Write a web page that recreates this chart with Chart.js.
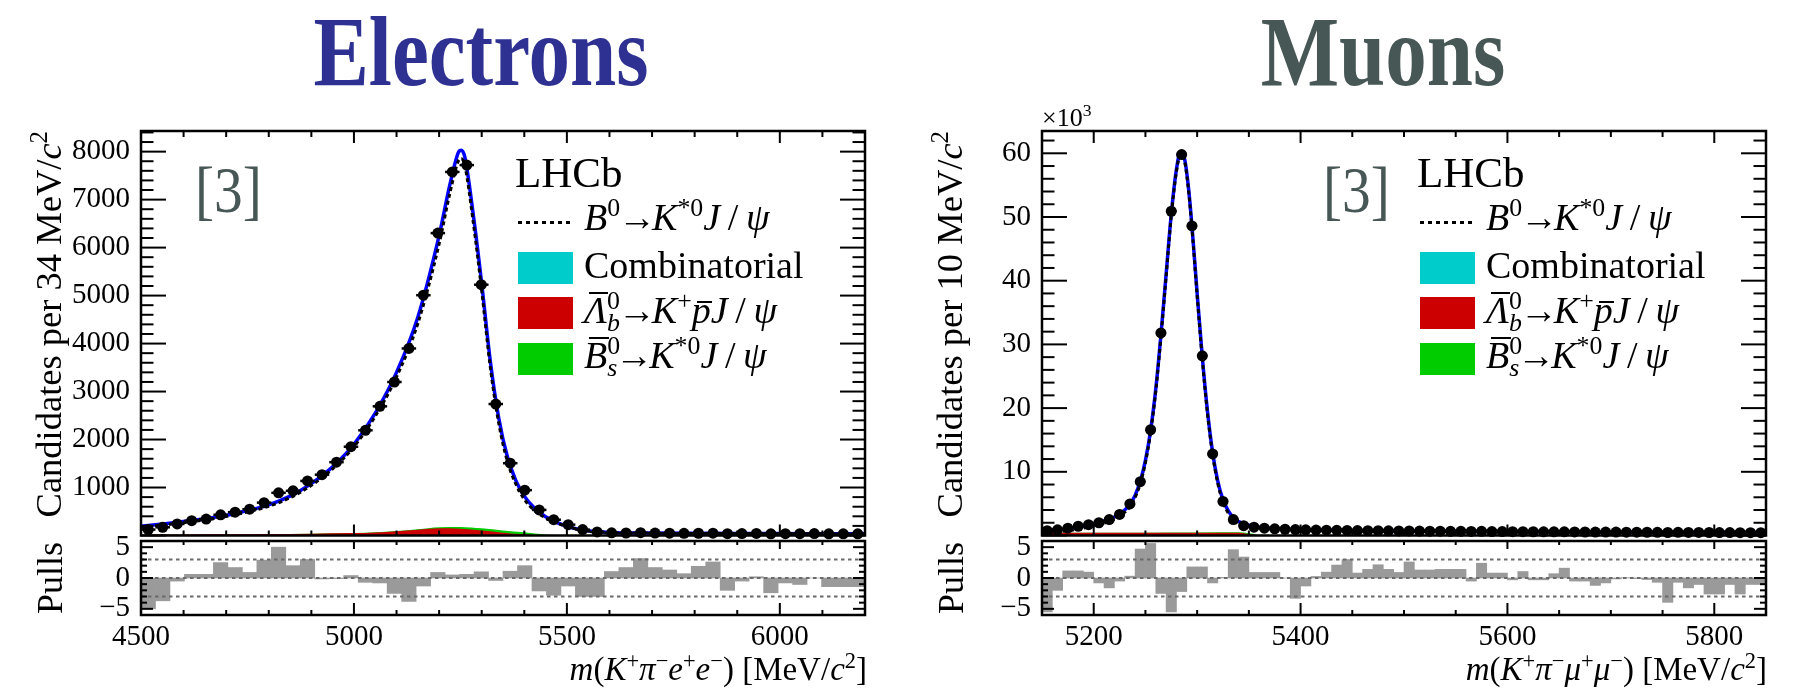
<!DOCTYPE html>
<html>
<head>
<meta charset="utf-8">
<script src="https://cdn.jsdelivr.net/npm/chart.js@4.4.0/dist/chart.umd.min.js"></script>
<style>
body { margin:0; background:#fff; width:1804px; height:695px; overflow:hidden; position:relative; }
canvas { position:absolute; }
.txt { position:absolute; white-space:nowrap; line-height:1; font-family:"Liberation Serif", serif; color:#000; }
.txt sup, .txt sub { line-height:0; font-size:.68em; }
.txt sup { vertical-align:.55em; }
.txt sub { vertical-align:-.32em; }
.st { margin-left:-.5em; }
.ar { margin:0 -.1em 0 -.06em; }
.ov { position:relative; display:inline-block; }
.ov::before { content:""; position:absolute; left:.14em; right:-.04em; top:var(--ot); border-top:.06em solid #000; }
.ttl { font-size:100px; font-weight:bold; width:500px; text-align:center; transform:scaleX(.83); }
.ref { font-size:66px; color:#475755; transform:scaleX(.87); transform-origin:0 0; }
.rot { transform-origin:0 0; transform:rotate(-90deg); }
.leg { position:absolute; top:0; width:400px; height:400px; }
.sw { position:absolute; left:518px; width:55px; height:32px; }
.dots { position:absolute; left:518px; top:221px; width:55px; height:3px;
        background:repeating-linear-gradient(90deg,#000 0 4.5px,transparent 4.5px 8px); }
</style>
</head>
<body>
<canvas id="eMain" width="900" height="541" style="left:0;top:0"></canvas>
<canvas id="mMain" width="904" height="541" style="left:900px;top:0"></canvas>
<canvas id="ePull" width="900" height="175" style="left:0;top:520px"></canvas>
<canvas id="mPull" width="904" height="175" style="left:900px;top:520px"></canvas>

<div class="txt ttl" style="left:231px;top:2px;color:#2e3192">Electrons</div>
<div class="txt ttl" style="left:1133px;top:2px;color:#475755">Muons</div>

<div class="txt ref" style="left:195px;top:157px">[3]</div>
<div class="txt ref" style="left:1323px;top:157px">[3]</div>

<div class="txt" style="left:1042px;top:105px;font-size:26px">×10<sup>3</sup></div>

<div class="leg" style="left:0">
  <div class="txt" style="left:515px;top:151px;font-size:43px">LHCb</div>
  <div class="dots"></div>
  <div class="sw" style="top:252px;background:#00cccc"></div>
  <div class="sw" style="top:297px;background:#cc0000"></div>
  <div class="sw" style="top:343px;background:#00cc00"></div>
  <div class="txt" style="left:584px;top:198px;font-size:38px"><i>B</i><sup>0</sup><span class="ar">→</span><i>K</i><sup>*0</sup><i>J</i>&thinsp;/&thinsp;<i>ψ</i></div>
  <div class="txt" style="left:584px;top:246px;font-size:38px">Combinatorial</div>
  <div class="txt" style="left:584px;top:291px;font-size:38px"><span class="ov" style="--ot:.02em"><i>Λ</i></span><sup>0</sup><sub class="st"><i>b</i></sub><span class="ar">→</span><i>K</i><sup>+</sup><span class="ov" style="--ot:.25em"><i>p</i></span><i>J</i>&thinsp;/&thinsp;<i>ψ</i></div>
  <div class="txt" style="left:584px;top:336px;font-size:38px"><span class="ov" style="--ot:.02em"><i>B</i></span><sup>0</sup><sub class="st"><i>s</i></sub><span class="ar">→</span><i>K</i><sup>*0</sup><i>J</i>&thinsp;/&thinsp;<i>ψ</i></div>
</div>
<div class="leg" style="left:902px">
  <div class="txt" style="left:515px;top:151px;font-size:43px">LHCb</div>
  <div class="dots"></div>
  <div class="sw" style="top:252px;background:#00cccc"></div>
  <div class="sw" style="top:297px;background:#cc0000"></div>
  <div class="sw" style="top:343px;background:#00cc00"></div>
  <div class="txt" style="left:584px;top:198px;font-size:38px"><i>B</i><sup>0</sup><span class="ar">→</span><i>K</i><sup>*0</sup><i>J</i>&thinsp;/&thinsp;<i>ψ</i></div>
  <div class="txt" style="left:584px;top:246px;font-size:38px">Combinatorial</div>
  <div class="txt" style="left:584px;top:291px;font-size:38px"><span class="ov" style="--ot:.02em"><i>Λ</i></span><sup>0</sup><sub class="st"><i>b</i></sub><span class="ar">→</span><i>K</i><sup>+</sup><span class="ov" style="--ot:.25em"><i>p</i></span><i>J</i>&thinsp;/&thinsp;<i>ψ</i></div>
  <div class="txt" style="left:584px;top:336px;font-size:38px"><span class="ov" style="--ot:.02em"><i>B</i></span><sup>0</sup><sub class="st"><i>s</i></sub><span class="ar">→</span><i>K</i><sup>*0</sup><i>J</i>&thinsp;/&thinsp;<i>ψ</i></div>
</div>

<div class="txt rot" style="left:31px;top:531px;width:400px;text-align:right;font-size:36.5px">Candidates per 34 MeV/<i>c</i><sup>2</sup></div>
<div class="txt rot" style="left:32px;top:658px;width:160px;text-align:center;font-size:36px">Pulls</div>
<div class="txt rot" style="left:932px;top:531px;width:400px;text-align:right;font-size:36.5px">Candidates per 10 MeV/<i>c</i><sup>2</sup></div>
<div class="txt rot" style="left:933px;top:658px;width:160px;text-align:center;font-size:36px">Pulls</div>

<div class="txt" style="right:937px;top:653px;font-size:33px"><i>m</i>(<i>K</i><sup>+</sup><i>π</i><sup>−</sup><i>e</i><sup>+</sup><i>e</i><sup>−</sup>) [MeV/<i>c</i><sup>2</sup>]</div>
<div class="txt" style="right:37px;top:653px;font-size:33px"><i>m</i>(<i>K</i><sup>+</sup><i>π</i><sup>−</sup><i>μ</i><sup>+</sup><i>μ</i><sup>−</sup>) [MeV/<i>c</i><sup>2</sup>]</div>

<script>
// ---- Electrons: 34 MeV bins from 4500 to 6200 ----
const massE = [4517, 4551, 4585, 4619, 4653, 4687, 4721, 4755, 4789, 4823,
  4857, 4891, 4925, 4959, 4993, 5027, 5061, 5095, 5129, 5163,
  5197, 5231, 5265, 5299, 5333, 5367, 5401, 5435, 5469, 5503,
  5537, 5571, 5605, 5639, 5673, 5707, 5741, 5775, 5809, 5843,
  5877, 5911, 5945, 5979, 6013, 6047, 6081, 6115, 6149, 6183];
const countsE = [123, 171, 240, 308, 342, 432, 486, 548, 685, 890,
  932, 1137, 1267, 1528, 1850, 2192, 2692, 3199, 3898, 5008,
  6302, 7577, 7720, 5227, 2740, 1507, 945, 534, 329, 226,
  123, 75, 55, 52, 58, 50, 48, 46, 47, 49,
  38, 41, 42, 36, 39, 38, 40, 35, 36, 35];
const pullsE = [-5.0, -3.7, -0.5, 0.6, 0.6, 2.5, 1.7, 0.9, 2.9, 5.0,
  2.0, 3.0, -0.15, -0.1, 0.4, -0.7, -0.8, -2.5, -3.8, -1.3,
  0.9, 0.5, 0.6, 1.0, -0.4, 1.1, 2.0, -2.1, -2.8, -1.3,
  -3.0, -3.0, 1.05, 1.7, 3.15, 1.7, 1.3, 0.7, 1.9, 2.6,
  -2.0, -0.5, 0.2, -2.4, -0.8, -1.05, 0.0, -1.4, -1.4, -1.4];
const fitMassE = [4500, 4550, 4600, 4650, 4700, 4750, 4800, 4850, 4900, 4950,
  5000, 5050, 5100, 5150, 5200, 5225, 5245, 5252, 5260, 5280,
  5300, 5320, 5340, 5360, 5380, 5400, 5425, 5450, 5500, 5550,
  5600, 5700, 5800, 5900, 6000, 6100, 6200];
const fitTotalE = [190, 240, 290, 350, 420, 520, 640, 820, 1080, 1430,
  1900, 2550, 3400, 4550, 6250, 7300, 7980, 8030, 7900, 6700,
  5250, 3650, 2450, 1650, 1150, 820, 560, 390, 190, 100,
  65, 50, 45, 42, 40, 38, 36];
const fitSignalE = [170, 218, 266, 325, 395, 492, 610, 787, 1045, 1390,
  1850, 2485, 3305, 4420, 6076, 7124, 7802, 7852, 7722, 6540,
  5100, 3520, 2340, 1555, 1075, 753, 515, 368, 186, 96,
  61, 46, 42, 39, 37, 35, 33];
const bkgMassE = [4500, 4600, 4700, 4800, 4900, 5000, 5050, 5100, 5150, 5200,
  5250, 5300, 5350, 5400, 5450, 5500, 5600, 5800, 6000, 6200];
const combE = [6, 6, 5, 5, 5, 5, 5, 5, 4, 4, 4, 4, 4, 4, 4, 4, 4, 3, 3, 3];
const lambdaE = [12, 15, 20, 26, 34, 45, 60, 85, 115, 145, 135, 100, 55, 18, 3, 0, 0, 0, 0, 0];
const bsE = [0, 0, 0, 0, 0, 1, 2, 5, 12, 25, 40, 47, 45, 45, 15, 0, 0, 0, 0, 0];
const yTicksE = [1000, 2000, 3000, 4000, 5000, 6000, 7000, 8000];
const xTicksE = [4500, 5000, 5500, 6000];

// ---- Muons: 10 MeV bins from 5150 to 5850, counts in thousands ----
const massM = [5155, 5165, 5175, 5185, 5195, 5205, 5215, 5225, 5235, 5245,
  5255, 5265, 5275, 5285, 5295, 5305, 5315, 5325, 5335, 5345,
  5355, 5365, 5375, 5385, 5395, 5405, 5415, 5425, 5435, 5445,
  5455, 5465, 5475, 5485, 5495, 5505, 5515, 5525, 5535, 5545,
  5555, 5565, 5575, 5585, 5595, 5605, 5615, 5625, 5635, 5645,
  5655, 5665, 5675, 5685, 5695, 5705, 5715, 5725, 5735, 5745,
  5755, 5765, 5775, 5785, 5795, 5805, 5815, 5825, 5835, 5845];
const countsM = [0.75, 0.9, 1.15, 1.45, 1.7, 2.0, 2.5, 3.3, 4.95, 8.45,
  16.6, 31.8, 50.9, 59.8, 48.6, 28.2, 12.8, 5.35, 2.5, 1.55,
  1.3, 1.15, 1.05, 0.98, 0.93, 0.9, 0.86, 0.84, 0.82, 0.8,
  0.78, 0.76, 0.75, 0.73, 0.72, 0.71, 0.7, 0.68, 0.67, 0.66,
  0.65, 0.64, 0.66, 0.62, 0.61, 0.6, 0.6, 0.59, 0.58, 0.57,
  0.58, 0.56, 0.55, 0.54, 0.54, 0.53, 0.52, 0.52, 0.51, 0.5,
  0.47, 0.5, 0.49, 0.48, 0.47, 0.46, 0.46, 0.45, 0.45, 0.44];
const pullsM = [-5.5, -2.0, 1.15, 1.15, 0.95, -0.8, -1.6, -0.5, 0.3, 4.7,
  5.6, -2.5, -5.5, -2.2, 1.8, 1.8, -0.8, 0.1, 4.6, 3.4,
  0.9, 0.9, 0.9, 0.0, -3.3, -1.3, 0.25, 0.95, 2.1, 3.0,
  0.8, 1.4, 2.15, 1.4, 0.9, 2.6, 1.3, 1.3, 1.4, 1.4,
  1.4, -0.5, 2.4, 0.8, 0.8, -0.3, 1.05, -0.3, -0.3, 0.7,
  1.6, -0.5, -0.5, -1.2, -0.8, -0.15, 0.05, -0.1, -0.25, -0.7,
  -3.95, -0.7, -1.6, -1.05, -2.6, -2.6, -1.05, -2.6, -1.05, -1.05];
const fitMassM = [5150, 5160, 5170, 5180, 5190, 5200, 5210, 5220, 5230, 5235,
  5240, 5245, 5250, 5255, 5260, 5265, 5270, 5275, 5280, 5284,
  5288, 5292, 5296, 5300, 5305, 5310, 5315, 5320, 5325, 5330,
  5335, 5340, 5350, 5360, 5375, 5400, 5450, 5500, 5600, 5700,
  5800, 5850];
const fitTotalM = [0.75, 0.85, 1.0, 1.2, 1.5, 1.85, 2.3, 2.9, 4.0, 4.9,
  6.3, 8.5, 11.8, 16.5, 23.0, 31.5, 41.0, 50.5, 57.5, 60.2,
  59.0, 54.0, 46.5, 38.0, 28.0, 19.5, 13.0, 8.5, 5.6, 3.9,
  2.8, 2.2, 1.6, 1.3, 1.1, 0.95, 0.8, 0.72, 0.62, 0.55,
  0.5, 0.48];
const fitSignalM = [0.4, 0.5, 0.65, 0.85, 1.15, 1.5, 1.95, 2.55, 3.65, 4.55,
  5.95, 8.15, 11.45, 16.15, 22.65, 31.15, 40.65, 50.15, 57.15, 59.85,
  58.65, 53.65, 46.15, 37.65, 27.65, 19.15, 12.65, 8.15, 5.25, 3.55,
  2.45, 1.85, 1.4, 1.22, 1.05, 0.9, 0.75, 0.67, 0.57, 0.5,
  0.45, 0.43];
const bkgMassM = [5150, 5200, 5250, 5300, 5340, 5350, 5360, 5400, 5500, 5600, 5700, 5800, 5850];
const combM = [0.05, 0.05, 0.05, 0.05, 0.05, 0.05, 0.05, 0.05, 0.05, 0.05, 0.05, 0.05, 0.05];
const lambdaM = [0.4, 0.4, 0.4, 0.4, 0.4, 0.2, 0, 0, 0, 0, 0, 0, 0];
const bsM = [0, 0, 0, 0.02, 0.05, 0.1, 0.08, 0.03, 0, 0, 0, 0, 0];
const yTicksM = [10, 20, 30, 40, 50, 60];
const xTicksM = [5200, 5400, 5600, 5800];

const pullTicks = [-5, 0, 5];
const pullGuides = [-3, 0, 3];

Chart.defaults.font.family = 'Liberation Serif';
const tickFont = { family: 'Liberation Serif', size: 29 };

const pts = (xs, ys) => xs.map((x, i) => ({ x: x, y: ys[i] }));
const label = v => (v < 0 ? '\u2212' + (-v) : String(v));

// fixed axis boxes, no extra room for the end labels
const fixW = w => s => { s.width = w; s.paddingTop = 0; s.paddingBottom = 0; };
const fixH = h => s => { s.height = h; s.paddingLeft = 0; s.paddingRight = 0; };

// ROOT style frame with inward ticks, error bars and dashed guide lines
const rootFrame = {
  id: 'rootFrame',
  afterDatasetsDraw(chart, args, o) {
    const ctx = chart.ctx, a = chart.chartArea;
    const xs = chart.scales.x, ys = chart.scales.y;
    const seg = (x1, y1, x2, y2) => { ctx.beginPath(); ctx.moveTo(x1, y1); ctx.lineTo(x2, y2); ctx.stroke(); };
    const isMajor = (v, step) => Math.abs(v / step - Math.round(v / step)) < 1e-6;
    ctx.save();
    if (o.halfBin) {
      ctx.strokeStyle = '#000';
      ctx.lineWidth = 2.5;
      chart.data.datasets[0].data.forEach(p => {
        const y = ys.getPixelForValue(p.y);
        seg(xs.getPixelForValue(p.x - o.halfBin), y, xs.getPixelForValue(p.x + o.halfBin), y);
      });
    }
    if (o.guides) {
      ctx.strokeStyle = '#6a6a6a';
      ctx.lineWidth = 2;
      ctx.setLineDash([3.5, 3.5]);
      o.guides.forEach(v => { const y = ys.getPixelForValue(v); seg(a.left, y, a.right, y); });
      ctx.setLineDash([]);
    }
    ctx.strokeStyle = '#000';
    ctx.lineWidth = 2;
    for (let v = xs.min; v <= xs.max + 1e-6; v += o.xMinor) {
      const x = xs.getPixelForValue(v);
      const m = isMajor(v, o.xMajor) ? 0 : 1;
      seg(x, a.top, x, a.top + o.xTop[m]);
      seg(x, a.bottom, x, a.bottom - o.xBottom[m]);
    }
    for (let v = ys.min; v <= ys.max + 1e-6; v += o.yMinor) {
      const y = ys.getPixelForValue(v);
      const m = isMajor(v, o.yMajor) ? 0 : 1;
      seg(a.left, y, a.left + o.yLen[m], y);
      seg(a.right, y, a.right - o.yLen[m], y);
    }
    ctx.lineWidth = 2.5;
    ctx.strokeRect(a.left, a.top, a.right - a.left, a.bottom - a.top);
    ctx.restore();
  }
};

function mainChart(id, c) {
  const smooth = { pointRadius: 0, cubicInterpolationMode: 'monotone' };
  return new Chart(document.getElementById(id), {
    type: 'line',
    data: {
      datasets: [
        { data: pts(c.mass, c.counts), showLine: false, pointRadius: 5.5, pointBackgroundColor: '#000', pointBorderWidth: 0, clip: 10 },
        { data: pts(c.fitMass, c.fitSignal), borderColor: '#000', borderWidth: 3, borderDash: [4, 3], ...smooth },
        { data: pts(c.fitMass, c.fitTotal), borderColor: '#0000ff', borderWidth: 3.5, ...smooth },
        { yAxisID: 'ys', data: pts(c.bkgMass, c.comb), backgroundColor: '#00cccc', borderWidth: 0, fill: 'origin', ...smooth },
        { yAxisID: 'ys', data: pts(c.bkgMass, c.lambda), backgroundColor: '#cc0000', borderWidth: 0, fill: 'origin', ...smooth },
        { yAxisID: 'ys', data: pts(c.bkgMass, c.bs), backgroundColor: '#00cc00', borderWidth: 0, fill: 'origin', ...smooth }
      ]
    },
    options: {
      responsive: false, animation: false, events: [],
      layout: { padding: { left: 0, top: 131, right: c.padRight, bottom: 1 } },
      plugins: {
        legend: { display: false }, tooltip: { enabled: false },
        rootFrame: { halfBin: c.halfBin, xMinor: c.xMinor, xMajor: c.xMajor, yMinor: c.yMinor, yMajor: c.yMajor,
                     xTop: [12, 6], xBottom: [11, 5], yLen: [25, 12.5] }
      },
      scales: {
        x: { type: 'linear', display: false, min: c.xMin, max: c.xMax },
        y: {
          type: 'linear', min: 0, max: c.yMax,
          afterFit: fixW(c.axisW),
          afterBuildTicks: s => { s.ticks = c.yTicks.map(v => ({ value: v })); },
          ticks: { font: tickFont, color: '#000', padding: 11, autoSkip: false, callback: label },
          grid: { display: false, drawTicks: false }, border: { display: false }
        },
        ys: { type: 'linear', axis: 'y', display: false, stacked: true, min: 0, max: c.yMax }
      }
    },
    plugins: [rootFrame]
  });
}

function pullChart(id, c) {
  return new Chart(document.getElementById(id), {
    type: 'bar',
    data: { datasets: [{ data: pts(c.mass, c.pulls), backgroundColor: '#9a9a9a', borderWidth: 0, barPercentage: 1, categoryPercentage: 1 }] },
    options: {
      responsive: false, animation: false, events: [],
      layout: { padding: { left: 0, top: 21, right: c.padRight, bottom: 0 } },
      plugins: {
        legend: { display: false }, tooltip: { enabled: false },
        rootFrame: { guides: pullGuides, xMinor: c.xMinor, xMajor: c.xMajor, yMinor: 1, yMajor: 5,
                     xTop: [8, 4], xBottom: [12, 5], yLen: [12, 6] }
      },
      scales: {
        x: {
          type: 'linear', min: c.xMin, max: c.xMax, offset: false,
          afterFit: fixH(80),
          afterBuildTicks: s => { s.ticks = c.xTicks.map(v => ({ value: v })); },
          ticks: { font: tickFont, color: '#000', padding: 5, maxRotation: 0, autoSkip: false, callback: label },
          grid: { display: false, drawTicks: false }, border: { display: false }
        },
        y: {
          type: 'linear', min: -6, max: 6,
          afterFit: fixW(c.axisW),
          afterBuildTicks: s => { s.ticks = pullTicks.map(v => ({ value: v })); },
          ticks: { font: tickFont, color: '#000', padding: 11, autoSkip: false, callback: label },
          grid: { display: false, drawTicks: false }, border: { display: false }
        }
      }
    },
    plugins: [rootFrame]
  });
}

const electrons = {
  mass: massE, counts: countsE, pulls: pullsE, fitMass: fitMassE, fitTotal: fitTotalE, fitSignal: fitSignalE,
  bkgMass: bkgMassE, comb: combE, lambda: lambdaE, bs: bsE, yTicks: yTicksE, xTicks: xTicksE,
  xMin: 4500, xMax: 6200, yMax: 8430, xMinor: 100, xMajor: 500, yMinor: 200, yMajor: 1000,
  halfBin: 17, axisW: 141, padRight: 35
};
const muons = {
  mass: massM, counts: countsM, pulls: pullsM, fitMass: fitMassM, fitTotal: fitTotalM, fitSignal: fitSignalM,
  bkgMass: bkgMassM, comb: combM, lambda: lambdaM, bs: bsM, yTicks: yTicksM, xTicks: xTicksM,
  xMin: 5150, xMax: 5850, yMax: 63.5, xMinor: 50, xMajor: 200, yMinor: 2, yMajor: 10,
  halfBin: 5, axisW: 142, padRight: 38
};

mainChart('eMain', electrons);
pullChart('ePull', electrons);
mainChart('mMain', muons);
pullChart('mPull', muons);
</script>
</body>
</html>
